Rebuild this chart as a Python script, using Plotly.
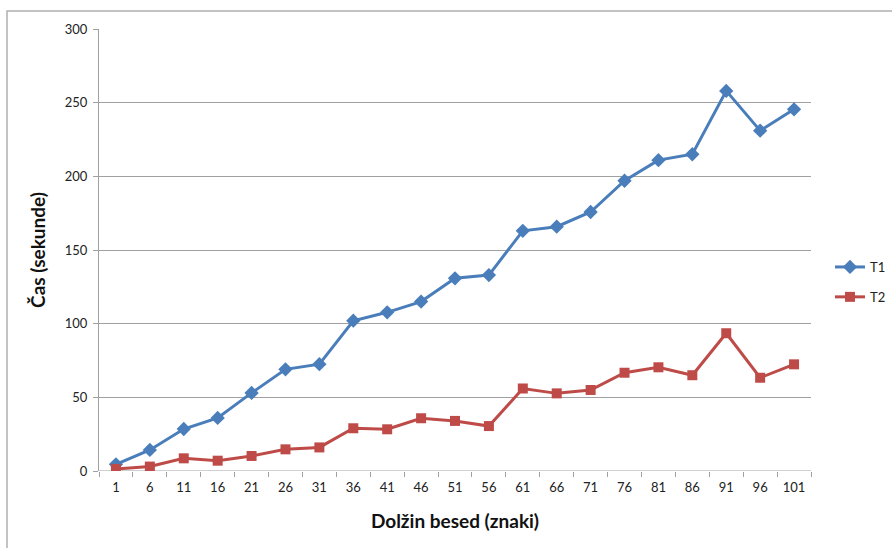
import plotly.graph_objects as go

# Word length (characters) on the x axis
lengths = [1, 6, 11, 16, 21, 26, 31, 36, 41, 46, 51, 56, 61, 66, 71, 76, 81, 86, 91, 96, 101]
categories = [str(v) for v in lengths]

# Time in seconds for each test
t1 = [4.5, 14.3, 28.5, 36, 53, 69, 72.5, 102, 107.7, 115, 130.8, 133, 163, 165.8, 175.8,
      197, 211, 215, 258, 231, 245.5]
t2 = [1.4, 3, 8.6, 7, 10.2, 14.7, 16, 29, 28.3, 35.8, 34, 30.5, 56, 52.7, 55, 66.7, 70.4,
      65, 93.5, 63.3, 72.4]

y_ticks = [0, 50, 100, 150, 200, 250, 300]

BLUE = "#4a7ebb"
RED = "#be4b48"
GRID = "#a0a0a0"
FONT = "Lato, 'Open Sans', sans-serif"

fig = go.Figure()
fig.add_trace(go.Scatter(
    x=categories, y=t1, name="T1", mode="lines+markers", legendgroup="t1",
    line=dict(color=BLUE, width=3),
    marker=dict(symbol="diamond", size=11, color=BLUE),
))
fig.add_trace(go.Scatter(
    x=categories, y=t2, name="T2", mode="lines+markers", legendgroup="t2",
    line=dict(color=RED, width=3),
    marker=dict(symbol="square", size=10, color=RED),
))

L, R, T, B = 99, 81, 29, 77
W, H = 892, 548
pw, ph = W - L - R, H - T - B

# light outer chart frame
fig.add_shape(
    type="rect", xref="paper", yref="paper",
    x0=(7 - L) / pw, x1=(W + 20 - L) / pw,
    y0=-(H + 20 - T - ph) / ph, y1=(H - B - 11) / ph,
    line=dict(color="#b0b0b0", width=1.5), fillcolor="rgba(0,0,0,0)", layer="below",
)

fig.update_layout(
    width=W, height=H,
    margin=dict(l=L, r=R, t=T, b=B, pad=0, autoexpand=False),
    paper_bgcolor="white", plot_bgcolor="white",
    font=dict(family=FONT, size=13, color="#222222"),
    showlegend=True,
    legend=dict(
        x=(830 - L) / pw, xanchor="left",
        y=(H - B - 282) / ph, yanchor="middle",
        font=dict(size=13, color="#222222"),
        bgcolor="rgba(0,0,0,0)", itemwidth=30,
        traceorder="grouped", tracegroupgap=10,
    ),
    xaxis=dict(
        type="category", range=[-0.5, len(categories) - 0.5],
        showgrid=False, showline=False, zeroline=False,
        ticks="outside", tickson="boundaries", ticklen=5, tickcolor=GRID, tickwidth=1,
        ticklabelstandoff=7,
        tickfont=dict(size=13, color="#222222"),
        title=dict(text="Dolžin besed (znaki)",
                   font=dict(size=19, color="#111111", family=FONT, weight="bold"),
                   standoff=20),
    ),
    yaxis=dict(
        range=[0, 300], tickvals=y_ticks,
        showgrid=True, gridcolor=GRID, gridwidth=1,
        showline=True, linecolor=GRID, linewidth=1, zeroline=False,
        ticks="outside", ticklen=5, tickcolor=GRID, ticklabelstandoff=3,
        tickfont=dict(size=13, color="#222222"),
        title=dict(text="Čas (sekunde)",
                   font=dict(size=19, color="#111111", family=FONT, weight="bold"),
                   standoff=14),
    ),
)
# bottom axis line drawn as the zero gridline
fig.add_hline(y=0, line=dict(color=GRID, width=1), layer="below")

fig.write_html("out.html")
